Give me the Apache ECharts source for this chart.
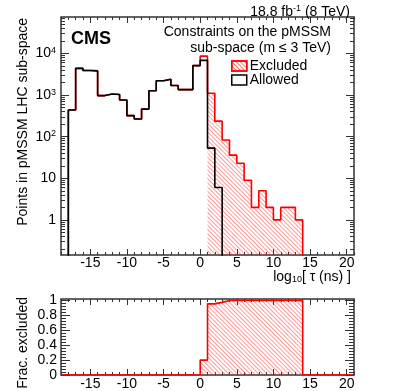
<!DOCTYPE html>
<html>
<head>
<meta charset="utf-8">
<script src="https://cdn.jsdelivr.net/npm/echarts@6/dist/echarts.min.js"></script>
<style>
  html, body { margin: 0; padding: 0; background: #fff; }
  #chart { width: 407px; height: 391px; }
</style>
</head>
<body>
<div id="chart"></div>
<script>
// bins are 1 unit wide in log10(tau/ns)
const allowedStart = -18
const allowed = [437, 4370, 3900, 3800, 970, 1060, 1030, 760, 320, 265, 460, 1270, 2200, 2400, 1700, 1350, 1350, 5100, 6800, 53, 6]
const excludedStart = 0
const excluded = [1800, 1050, 230, 83, 36, 23, 9, 2, 5, 2, 1, 2, 2, 1]
const fracStart = 0
const fracExcluded = [0.2, 0.955, 0.975, 1, 1, 1, 1, 1, 1, 1, 1, 1, 1, 1]

const xTicks = [-15, -10, -5, 0, 5, 10, 15, 20]
const yTopTicks = [1, 10, 100, 1000, 10000]
const yBotTicks = [0, 0.2, 0.4, 0.6, 0.8, 1]

const xMin = -19, xMax = 21
const yTopMin = 0.1435, yTopMax = 75000
const yBotMin = 0, yBotMax = 1.02
const FONT = 'Liberation Sans'
const frameColor = '#333'

// minor tick positions
const xMinor = []
for (let v = xMin; v <= xMax; v++) xMinor.push(v)
const yTopMinor = []
for (let e = -1; e <= 4; e++) {
  for (let m = 2; m <= 9; m++) {
    const v = m * Math.pow(10, e)
    if (v > yTopMin && v < yTopMax) yTopMinor.push(v)
  }
}
const yBotMinor = []
for (let i = 0; i <= 25; i++) yBotMinor.push(+(i * 0.04).toFixed(2))

// totals = allowed + excluded, on the common bin range
const totStart = allowedStart
const totEnd = excludedStart + excluded.length
const total = []
for (let b = totStart; b < totEnd; b++) {
  const a = allowed[b - allowedStart] || 0
  const e = excluded[b - excludedStart] || 0
  total.push(a + e)
}

function stepPoints(start, values, floor) {
  const pts = [[start, floor]]
  values.forEach((v, i) => pts.push([start + i, v]))
  pts.push([start + values.length, values[values.length - 1]])
  pts.push([start + values.length, floor])
  return pts
}

// red "///" hatch, one object per user
const hatchDecal = () => ({
  symbol: 'rect', symbolSize: 1, color: 'rgba(255,60,60,0.75)',
  dashArrayX: [1, 0], dashArrayY: [1, 2], rotation: Math.PI / 4
})

const labelStyle = { color: '#000', fontSize: 14, fontFamily: FONT }

function xAxisSet(grid, margin) {
  const base = {
    type: 'value', gridIndex: grid, min: xMin, max: xMax,
    axisLine: { show: false, onZero: false }, splitLine: { show: false }
  }
  const tick = (vals, len) => ({ show: true, inside: true, length: len, customValues: vals, lineStyle: { color: frameColor, width: 1 } })
  return [
    Object.assign({}, base, { position: 'bottom', axisTick: tick(xTicks, 6),
      axisLabel: Object.assign({ customValues: xTicks, margin: margin }, labelStyle) }),
    Object.assign({}, base, { position: 'bottom', axisTick: tick(xMinor, 3), axisLabel: { show: false } }),
    Object.assign({}, base, { position: 'top', axisTick: tick(xTicks, 6), axisLabel: { show: false } }),
    Object.assign({}, base, { position: 'top', axisTick: tick(xMinor, 3), axisLabel: { show: false } })
  ]
}

function yAxisSet(grid, type, min, max, major, minor, lenMaj, lenMin, label) {
  const base = {
    type: type, gridIndex: grid, min: min, max: max,
    axisLine: { show: false, onZero: false }, splitLine: { show: false }
  }
  const tick = (vals, len) => ({ show: true, inside: true, length: len, customValues: vals, lineStyle: { color: frameColor, width: 1 } })
  return [
    Object.assign({}, base, { position: 'left', axisTick: tick(major, lenMaj), axisLabel: label }),
    Object.assign({}, base, { position: 'left', axisTick: tick(minor, lenMin), axisLabel: { show: false } }),
    Object.assign({}, base, { position: 'right', axisTick: tick(major, lenMaj), axisLabel: { show: false } }),
    Object.assign({}, base, { position: 'right', axisTick: tick(minor, lenMin), axisLabel: { show: false } })
  ]
}

const topYLabel = Object.assign({
  customValues: yTopTicks, margin: 5,
  formatter: v => {
    if (v === 1) return '1'
    if (v === 10) return '10'
    return '10{sup|' + Math.round(Math.log10(v)) + '}'
  },
  rich: { sup: { fontSize: 9, fontFamily: FONT, color: '#000', verticalAlign: 'top', padding: [0, 0, 6, 0] } }
}, labelStyle)

const botYLabel = Object.assign({
  customValues: yBotTicks, margin: 4,
  formatter: v => String(v)
}, labelStyle)

const chart = echarts.init(document.getElementById('chart'))
chart.setOption({
  animation: false,
  grid: [
    { left: 61, top: 17, width: 293, height: 238, show: true, borderColor: frameColor, borderWidth: 1.5, backgroundColor: 'transparent' },
    { left: 61, top: 299, width: 293, height: 78, show: true, borderColor: frameColor, borderWidth: 1.5, backgroundColor: 'transparent' }
  ],
  xAxis: xAxisSet(0, 1).concat(xAxisSet(1, 2)),
  yAxis: yAxisSet(0, 'log', yTopMin, yTopMax, yTopTicks, yTopMinor, 8, 4, topYLabel)
    .concat(yAxisSet(1, 'value', yBotMin, yBotMax, yBotTicks, yBotMinor, 9, 5, botYLabel)),
  legend: {
    left: 231, top: 59, padding: 0, orient: 'vertical', itemWidth: 15, itemHeight: 10, itemGap: 0,
    selectedMode: false,
    textStyle: { fontSize: 14, fontFamily: FONT, color: '#000', padding: [0, 0, 0, -2] },
    data: [
      { name: 'Excluded', icon: 'rect', itemStyle: { color: '#fff', borderColor: '#ff0000', borderWidth: 1.5, decal: hatchDecal() } },
      { name: 'Allowed', icon: 'rect', itemStyle: { color: '#fff', borderColor: '#000', borderWidth: 1.5 } }
    ]
  },
  graphic: [
    { type: 'text', x: 350, y: 12, style: { text: '18.8 fb{sup|-1} (8 TeV)', align: 'right', verticalAlign: 'middle', fontSize: 14, fontFamily: FONT, fill: '#000',
      rich: { sup: { fontSize: 9, fontFamily: FONT, verticalAlign: 'top', padding: [0, 0, 6, 0] } } } },
    { type: 'text', x: 71, y: 39, style: { text: 'CMS', align: 'left', verticalAlign: 'middle', fontSize: 18, fontWeight: 'bold', fontFamily: FONT, fill: '#000' } },
    { type: 'text', x: 331, y: 32, style: { text: 'Constraints on the pMSSM', align: 'right', verticalAlign: 'middle', fontSize: 14, fontFamily: FONT, fill: '#000' } },
    { type: 'text', x: 331, y: 48, style: { text: 'sub-space (m \u2264 3 TeV)', align: 'right', verticalAlign: 'middle', fontSize: 14, fontFamily: FONT, fill: '#000' } },
    { type: 'text', x: 351, y: 277, style: { text: 'log{sub|10}[ \u03c4 (ns) ]', align: 'right', verticalAlign: 'middle', fontSize: 14, fontFamily: FONT, fill: '#000',
      rich: { sub: { fontSize: 9, fontFamily: FONT, verticalAlign: 'bottom', padding: [6, 0, 0, 0] } } } },
    { type: 'text', x: 23, y: 18, rotation: Math.PI / 2, style: { text: 'Points in pMSSM LHC sub-space', align: 'right', verticalAlign: 'middle', fontSize: 14, fontFamily: FONT, fill: '#000' } },
    { type: 'text', x: 23, y: 297, rotation: Math.PI / 2, style: { text: 'Frac. excluded', align: 'right', verticalAlign: 'middle', fontSize: 14, fontFamily: FONT, fill: '#000' } }
  ],
  series: [
    {
      name: 'Excluded', type: 'line', step: 'end', xAxisIndex: 0, yAxisIndex: 0,
      data: stepPoints(1, total.slice(1 - totStart), 0.01),
      showSymbol: false, lineStyle: { opacity: 0 }, itemStyle: { color: '#ff0000', decal: hatchDecal() },
      areaStyle: { color: 'rgba(255,255,255,0)', origin: 'start' }, z: 2
    },
    {
      name: 'Total', type: 'line', step: 'end', xAxisIndex: 0, yAxisIndex: 0,
      data: stepPoints(totStart, total, 0.01),
      showSymbol: false, lineStyle: { color: '#ff0000', width: 1.6 }, z: 3
    },
    {
      name: 'Allowed', type: 'line', step: 'end', xAxisIndex: 0, yAxisIndex: 0,
      data: stepPoints(allowedStart, allowed, 0.01),
      showSymbol: false, lineStyle: { color: '#000', width: 1.6 }, itemStyle: { color: '#000' }, z: 4
    },
    {
      name: 'Frac', type: 'line', step: 'end', xAxisIndex: 4, yAxisIndex: 4,
      data: [[xMin, 0]].concat(stepPoints(fracStart, fracExcluded, 0)).concat([[xMax, 0]]),
      showSymbol: false, lineStyle: { color: '#ff0000', width: 1.6 }, itemStyle: { color: '#ff0000', decal: hatchDecal() },
      areaStyle: { color: 'rgba(255,255,255,0)', origin: 'start' }, z: 3
    }
  ]
})
</script>
</body>
</html>
